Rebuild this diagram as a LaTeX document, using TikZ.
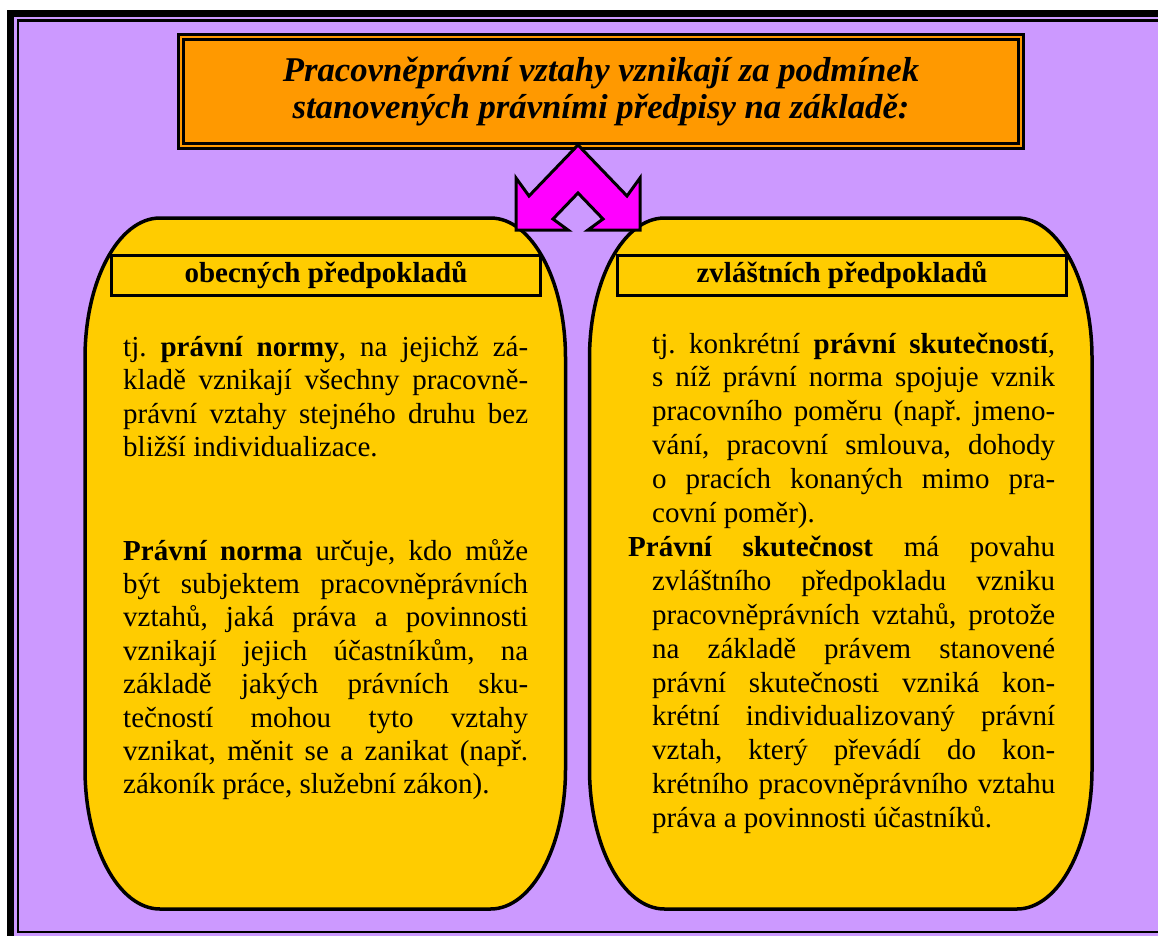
\documentclass[tikz,border=0pt]{standalone}
\usepackage{fontspec}
\setmainfont{Liberation Serif}
\frenchspacing

\definecolor{framepurple}{HTML}{CC99FF}
\definecolor{titleorange}{HTML}{FF9900}
\definecolor{panelyellow}{HTML}{FFCC00}
\definecolor{arrowmagenta}{HTML}{FF00FF}

\begin{document}
\begin{tikzpicture}[
  x=1pt, y=-1pt,
  titlebox/.style={draw, line width=2.7pt, double=titleorange, double distance=2.4pt,
    fill=titleorange, inner sep=0pt, align=center,
    font=\fontsize{34.7}{37}\selectfont\bfseries\itshape},
  panel/.style={draw, line width=3.5pt, fill=panelyellow},
  headbox/.style={draw, line width=2.7pt, inner sep=0pt, minimum height=40pt,
    font=\fontsize{29}{33.5}\selectfont\bfseries},
  bodytext/.style={anchor=base west, inner sep=0pt},
  bigarrow/.style={draw, line width=3pt, fill=arrowmagenta, line join=miter}
]

\useasboundingbox (0,0) rectangle (1158,936);
\clip (0,0) rectangle (1158,936);

% frame
\fill[white] (0,0) rectangle (1158,936);
\fill[framepurple] (10.5,13.3) rectangle (1200,980);
\draw[line width=7pt] (10.5,13.3) rectangle (1200,942);
\draw[line width=2.5pt] (18,20.5) rectangle (1190,932);

% title
\node[titlebox, minimum width=840pt, minimum height=109pt] (title) at (601,91.5)
  {Pracovněprávní vztahy vznikají za podmínek\\stanovených právními předpisy na základě:};

% panels
\draw[panel] (85,358) arc[start angle=180, end angle=270, x radius=75, y radius=140]
  -- (490.5,218) arc[start angle=270, end angle=360, x radius=75, y radius=140]
  -- (565.5,769) arc[start angle=0, end angle=90, x radius=75, y radius=140]
  -- (160,909) arc[start angle=90, end angle=180, x radius=75, y radius=140] -- cycle;
\draw[panel] (589.5,358) arc[start angle=180, end angle=270, x radius=75, y radius=140]
  -- (1017,218) arc[start angle=270, end angle=360, x radius=75, y radius=140]
  -- (1092,769) arc[start angle=0, end angle=90, x radius=75, y radius=140]
  -- (664.5,909) arc[start angle=90, end angle=180, x radius=75, y radius=140] -- cycle;

% headers
\node[headbox, minimum width=429pt] (lefthead) at (326,275.5) {obecných předpokladů};
\node[headbox, minimum width=449pt] (righthead) at (842,275.5) {zvláštních předpokladů};

% texts
\node[bodytext] (lefttop) at (123,356) {\fontsize{29}{33.5}\selectfont
  \parbox[t]{405pt}{\parskip=0pt
  tj. \textbf{právní normy}, na jejichž zá-\linebreak
  kladě vznikají všechny pracovně-\linebreak
  právní vztahy stejného druhu bez\linebreak
  bližší individualizace.}};
\node[bodytext] (leftbottom) at (123,560) {\fontsize{29}{33.4}\selectfont
  \parbox[t]{405pt}{\parskip=0pt
  \textbf{Právní norma} určuje, kdo může\linebreak
  být subjektem pracovněprávních\linebreak
  vztahů, jaká práva a povinnosti\linebreak
  vznikají jejich účastníkům, na\linebreak
  základě jakých právních sku-\linebreak
  tečností mohou tyto vztahy\linebreak
  vznikat, měnit se a zanikat (např.\linebreak
  zákoník práce, služební zákon).}};
\node[bodytext] (righttext) at (628,353) {\fontsize{29}{33.9}\selectfont
  \parbox[t]{427pt}{\parskip=0pt
  \hangindent=24pt\hangafter=0
  tj. konkrétní \textbf{právní skutečností},\linebreak
  s~níž právní norma spojuje vznik\linebreak
  pracovního poměru (např. jmeno-\linebreak
  vání, pracovní smlouva, dohody\linebreak
  o pracích konaných mimo pra-\linebreak
  covní poměr).\par
  \hangindent=24pt\hangafter=1
  \textbf{Právní skutečnost} má povahu\linebreak
  zvláštního předpokladu vzniku\linebreak
  pracovněprávních vztahů, protože\linebreak
  na základě právem stanovené\linebreak
  právní skutečnosti vzniká kon-\linebreak
  krétní individualizovaný právní\linebreak
  vztah, který převádí do kon-\linebreak
  krétního pracovněprávního vztahu\linebreak
  práva a povinnosti účastníků.}};

% arrow
\draw[bigarrow] (578,145) -- (627,196) -- (640,178) -- (640,230) -- (588,230)
  -- (603,219) -- (578,193) -- (553,219) -- (568,230) -- (516,230)
  -- (516,178) -- (529,196) -- cycle;

\end{tikzpicture}
\end{document}
